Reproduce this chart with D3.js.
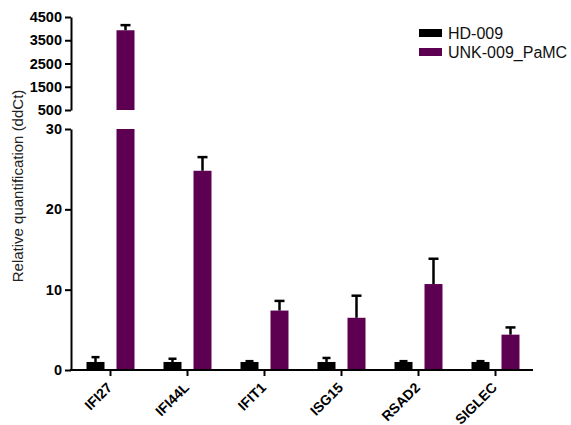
<!DOCTYPE html>
<html>
<head>
<meta charset="utf-8">
<script src="https://cdn.jsdelivr.net/npm/d3@7"></script>
<style>
  html, body { margin: 0; padding: 0; background: #fff; }
  svg { display: block; font-family: "Liberation Sans", Arial, sans-serif; }
</style>
</head>
<body>
<svg id="chart" width="571" height="425"></svg>
<script>
// Genes on the x axis
const genes = ["IFI27", "IFI44L", "IFIT1", "ISG15", "RSAD2", "SIGLEC"];
// Sample series
const seriesNames = ["HD-009", "UNK-009_PaMC"];
const seriesColors = ["#000000", "#5e0052"];
// Mean relative quantification per gene
const hdMeans = [1.0, 1.0, 1.0, 1.0, 1.0, 1.0];
const unkMeans = [3930, 24.8, 7.4, 6.5, 10.7, 4.4];
// Upper end of the error bars (mean + SD)
const hdUpper = [1.6, 1.4, 1.1, 1.5, 1.1, 1.1];
const unkUpper = [4150, 26.5, 8.6, 9.25, 13.85, 5.3];
// Broken y axis: lower and upper segments
const lowTicks = [0, 10, 20, 30];
const highTicks = [500, 1500, 2500, 3500, 4500];

const svg = d3.select("#chart");
const axisX = 71, axisRight = 533;
const yLow = d3.scaleLinear().domain([0, 30]).range([370, 129]);
const yHigh = d3.scaleLinear().domain([500, 4500]).range([110, 17]);

const x = d3.scaleBand().domain(genes).range([72, 534]).paddingInner(0).paddingOuter(0);
const sub = d3.scaleBand().domain(seriesNames).range([-24, 24]).paddingInner(0.4);

const data = genes.map((g, i) => ({
  gene: g,
  values: [
    { s: 0, mean: hdMeans[i], up: hdUpper[i] },
    { s: 1, mean: unkMeans[i], up: unkUpper[i] }
  ]
}));

// Map a value onto the broken axis
function yPos(v) {
  return v <= 30 ? yLow(v) : yHigh(v);
}

const groups = svg.append("g").selectAll("g").data(data).join("g")
  .attr("transform", d => `translate(${x(d.gene) + x.bandwidth() / 2},0)`);

// bars (bars above the break are drawn in two pieces)
groups.each(function(d) {
  const g = d3.select(this);
  d.values.forEach(v => {
    const bx = sub(seriesNames[v.s]);
    const bw = sub.bandwidth();
    const col = seriesColors[v.s];
    if (v.mean <= 30) {
      g.append("rect").attr("x", bx).attr("width", bw)
        .attr("y", yLow(v.mean)).attr("height", yLow(0) - yLow(v.mean)).attr("fill", col);
    } else {
      g.append("rect").attr("x", bx).attr("width", bw)
        .attr("y", yLow(30)).attr("height", yLow(0) - yLow(30)).attr("fill", col);
      g.append("rect").attr("x", bx).attr("width", bw)
        .attr("y", yHigh(v.mean)).attr("height", yHigh(500) - yHigh(v.mean)).attr("fill", col);
    }
    // upper error bar
    const cx = bx + bw / 2;
    const capW = v.s === 0 ? 8 : 10;
    g.append("line").attr("x1", cx).attr("x2", cx)
      .attr("y1", yPos(v.mean)).attr("y2", yPos(v.up))
      .attr("stroke", "#000").attr("stroke-width", 2.5);
    g.append("line").attr("x1", cx - capW / 2).attr("x2", cx + capW / 2)
      .attr("y1", yPos(v.up)).attr("y2", yPos(v.up))
      .attr("stroke", "#000").attr("stroke-width", 2.5);
  });
});

// axes styling
function styleAxis(sel, size) {
  sel.selectAll(".domain").attr("stroke", "#000").attr("stroke-width", 2);
  sel.selectAll(".tick line").attr("stroke", "#000").attr("stroke-width", 2);
  sel.selectAll(".tick text").attr("fill", "#000")
    .style("font-size", size).style("font-weight", "bold")
    .style("font-family", "'Liberation Sans', Arial, sans-serif");
}

const fmt = d3.format("d");
const axLow = svg.append("g").attr("transform", `translate(${axisX},0)`)
  .call(d3.axisLeft(yLow).tickValues(lowTicks).tickFormat(fmt).tickSize(6).tickSizeOuter(0).tickPadding(3));
styleAxis(axLow, "14.5px");
const axHigh = svg.append("g").attr("transform", `translate(${axisX},0)`)
  .call(d3.axisLeft(yHigh).tickValues(highTicks).tickFormat(fmt).tickSize(6).tickSizeOuter(0).tickPadding(3));
styleAxis(axHigh, "14.5px");

// x axis
const axX = svg.append("g").attr("transform", `translate(0,${yLow(0)})`)
  .call(d3.axisBottom(x).tickSize(6).tickSizeOuter(0));
axX.select(".domain").attr("d", `M${axisX - 1},0H${axisRight}`);
styleAxis(axX, "14px");
axX.selectAll(".tick text")
  .attr("x", 0).attr("y", 0)
  .attr("text-anchor", "end")
  .attr("dy", "0.35em")
  .attr("transform", "translate(-1,15) rotate(-45)");

// y axis title
svg.append("text")
  .attr("transform", "translate(23,186) rotate(-90)")
  .attr("text-anchor", "middle")
  .style("font-size", "15px")
  .attr("fill", "#222")
  .text("Relative quantification (ddCt)");

// legend
const legend = svg.append("g").attr("transform", "translate(419,29)");
seriesNames.forEach((name, i) => {
  const row = legend.append("g").attr("transform", `translate(0,${i * 19})`);
  row.append("rect").attr("width", 23).attr("height", 8).attr("fill", seriesColors[i]);
  row.append("text").attr("x", 29).attr("y", 4).attr("dy", "0.35em")
    .style("font-size", "16px").attr("fill", "#111").text(name);
});
</script>
</body>
</html>
